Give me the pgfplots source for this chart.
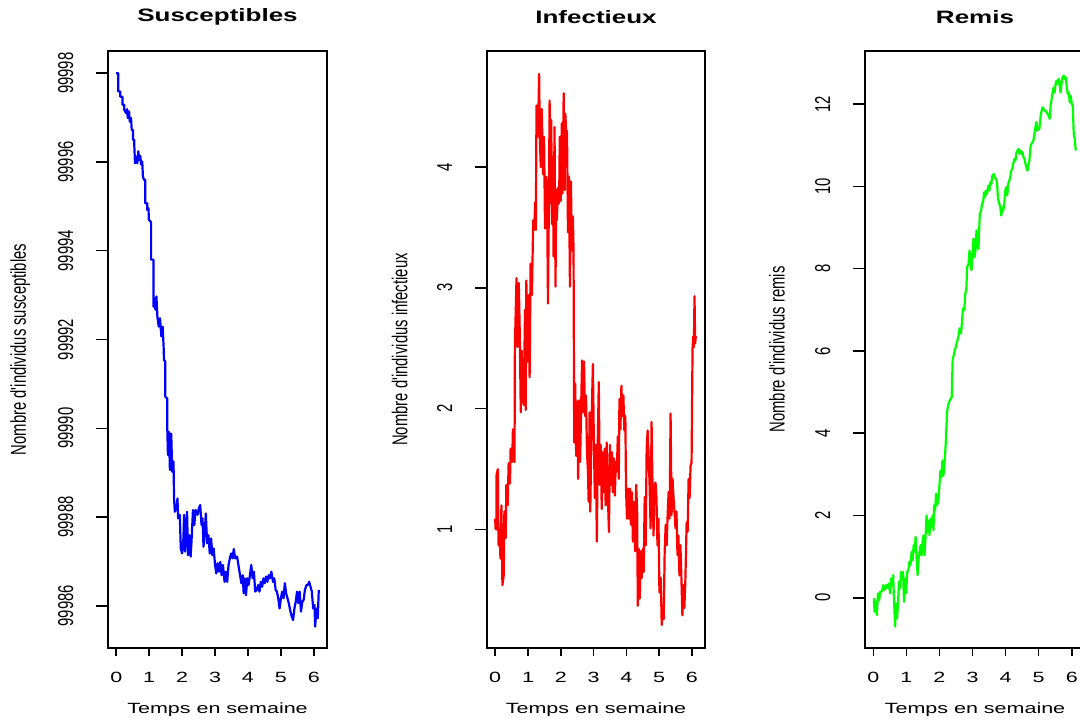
\documentclass[border=0pt]{standalone}
\usepackage{fontspec}
\setmainfont{Liberation Sans}
\usepackage{graphicx}
\usepackage{pgfplots}
\pgfplotsset{compat=1.18}

% text is squeezed vertically (horizontal text) or along its reading direction (rotated text)
\newcommand\hsq[1]{\scalebox{1}[0.69]{#1}}
\newcommand\vsq[1]{\rotatebox{90}{\scalebox{0.69}[1]{#1}}}
\newcommand\lab{\fontsize{21.5}{24}\selectfont}

\pgfplotsset{
  rpanel/.style={
    scale only axis, width=219pt, height=597pt, anchor=south west,
    xmin=-0.25, xmax=6.4,
    scaled y ticks=false, scaled x ticks=false,
    axis line style={line width=1.5pt, black},
    tick pos=left, tick align=outside,
    xtick={0,1,2,3,4,5,6},
    xticklabels={\hsq{0},\hsq{1},\hsq{2},\hsq{3},\hsq{4},\hsq{5},\hsq{6}},
    xtick style={line width=1.5pt, black, /pgfplots/major tick length=8.5pt},
    ytick style={line width=1.5pt, black, /pgfplots/major tick length=12.5pt},
    tick label style={font=\lab, inner sep=0pt},
    xticklabel style={anchor=center, yshift=-25pt},
    yticklabel style={anchor=center, xshift=-38pt},
    every axis x label/.style={at={(axis description cs:0.5,0)}, anchor=center, yshift=-62pt, font=\lab},
    every axis y label/.style={at={(axis description cs:-0.40,0.5)}, anchor=center, font=\lab},
    every axis title/.style={at={(axis description cs:0.5,1)}, anchor=center, yshift=34pt, font=\bfseries\fontsize{26}{30}\selectfont},
    xlabel={\hsq{Temps en semaine}},
    every axis plot/.append style={line width=2.2pt, line join=round, mark=none},
  }
}

\begin{document}
\begin{tikzpicture}
\useasboundingbox (0,0) rectangle (1080pt,722pt);
\clip (0,0) rectangle (1080pt,722pt);

% Susceptibles
\begin{axis}[rpanel, at={(108pt,74pt)},
  ymin=99985.05, ymax=99998.5,
  ytick={99986,99988,99990,99992,99994,99996,99998},
  yticklabels={\vsq{99986},\vsq{99988},\vsq{99990},\vsq{99992},\vsq{99994},\vsq{99996},\vsq{99998}},
  title={\hsq{Susceptibles}},
  ylabel={\vsq{Nombre d\textquotesingle individus susceptibles}}]
\addplot[color={rgb,255:red,0;green,0;blue,255}] coordinates {
(0,99998.0)(0.06,99998.0)(0.06,99997.59)(0.12,99997.59)(0.12,99997.47)(0.19,99997.47)
(0.19,99997.29)(0.245,99997.29)(0.245,99997.17)(0.30,99997.10)(0.33,99997.19)(0.35,99996.99)
(0.39,99997.14)(0.41,99996.91)(0.45,99996.99)(0.47,99996.72)(0.51,99996.72)(0.51,99996.50)
(0.55,99996.50)(0.55,99996.35)(0.57,99995.97)(0.61,99996.12)(0.64,99995.97)(0.67,99996.24)
(0.70,99996.05)(0.73,99996.14)(0.755,99995.94)(0.79,99996.01)(0.81,99995.67)(0.84,99995.60)
(0.88,99995.60)(0.88,99995.07)(0.94,99995.07)(0.94,99994.92)(0.98,99994.96)(0.99,99994.70)
(1.04,99994.66)(1.06,99994.62)(1.06,99993.80)(1.13,99993.80)(1.13,99992.74)(1.16,99992.93)
(1.19,99992.67)(1.22,99992.97)(1.25,99992.52)(1.29,99992.29)(1.33,99992.48)(1.37,99992.07)
(1.41,99992.29)(1.44,99991.81)(1.45,99991.54)(1.49,99991.50)(1.49,99990.71)(1.55,99990.67)
(1.55,99990.00)(1.57,99989.40)(1.60,99989.92)(1.63,99989.06)(1.67,99989.88)(1.70,99989.02)
(1.74,99989.25)(1.755,99988.42)(1.78,99988.12)(1.83,99988.20)(1.86,99988.42)(1.88,99987.97)
(1.93,99988.05)(1.96,99987.29)(2.00,99987.18)(2.04,99987.52)(2.06,99988.05)(2.09,99987.22)
(2.12,99987.59)(2.15,99988.12)(2.18,99987.14)(2.22,99987.59)(2.26,99987.11)(2.29,99987.52)
(2.33,99988.16)(2.37,99987.82)(2.41,99988.16)(2.47,99988.05)(2.51,99988.20)(2.55,99988.27)
(2.59,99987.82)(2.62,99987.97)(2.65,99987.33)(2.69,99987.67)(2.72,99988.08)(2.76,99987.41)
(2.80,99987.59)(2.84,99987.18)(2.88,99987.52)(2.92,99987.14)(2.96,99987.29)(3.00,99986.92)
(3.04,99986.73)(3.08,99986.96)(3.12,99986.77)(3.16,99986.99)(3.20,99986.69)(3.24,99986.92)
(3.29,99986.54)(3.33,99986.77)(3.37,99986.54)(3.41,99986.92)(3.45,99987.07)(3.49,99987.18)
(3.53,99987.07)(3.57,99987.28)(3.61,99987.07)(3.67,99987.11)(3.71,99986.92)(3.76,99986.69)
(3.80,99986.51)(3.84,99986.69)(3.87,99986.28)(3.90,99986.62)(3.94,99986.24)(3.98,99986.62)
(4.02,99986.47)(4.06,99986.69)(4.10,99986.92)(4.14,99986.62)(4.18,99986.77)(4.22,99986.32)
(4.27,99986.36)(4.31,99986.47)(4.35,99986.32)(4.39,99986.54)(4.43,99986.43)(4.47,99986.62)
(4.51,99986.51)(4.55,99986.66)(4.59,99986.54)(4.63,99986.69)(4.67,99986.62)(4.71,99986.77)
(4.76,99986.54)(4.80,99986.62)(4.84,99986.36)(4.88,99986.32)(4.92,99986.17)(4.96,99985.94)
(5.00,99986.17)(5.04,99986.32)(5.08,99986.17)(5.12,99986.51)(5.16,99986.28)(5.20,99986.17)
(5.24,99986.06)(5.29,99985.87)(5.33,99985.76)(5.37,99985.68)(5.41,99985.94)(5.45,99986.09)
(5.49,99986.32)(5.53,99986.06)(5.57,99986.32)(5.61,99985.87)(5.65,99986.09)(5.69,99986.13)
(5.73,99986.36)(5.78,99986.47)(5.82,99986.47)(5.86,99986.54)(5.90,99986.43)(5.94,99986.32)
(5.98,99985.94)(6.02,99986.02)(6.04,99985.53)(6.08,99985.94)(6.12,99985.72)(6.15,99986.36)
};
\end{axis}

% Infectieux
\begin{axis}[rpanel, at={(487pt,74pt)}, width=218pt,
  ymin=0.02, ymax=4.96,
  ytick={1,2,3,4},
  yticklabels={\vsq{1},\vsq{2},\vsq{3},\vsq{4}},
  title={\hsq{Infectieux}},
  ylabel={\vsq{Nombre d\textquotesingle individus infectieux}}]
\addplot[color={rgb,255:red,255;green,0;blue,0}] coordinates {
(0,1.09)(0.01,1.01)(0.04,1.00)(0.04,1.45)(0.08,1.50)(0.10,0.87)(0.13,1.01)(0.16,0.76)
(0.19,1.20)(0.22,0.54)(0.26,0.62)(0.28,1.15)(0.32,0.93)(0.34,1.37)(0.38,1.20)(0.41,1.55)
(0.45,1.38)(0.47,1.67)(0.52,1.56)(0.54,1.83)(0.59,1.56)(0.60,2.50)(0.65,3.08)(0.68,2.51)
(0.72,3.04)(0.75,2.62)(0.78,1.97)(0.81,2.48)(0.83,2.22)(0.87,2.03)(0.91,2.82)(0.93,1.99)
(0.95,3.06)(0.99,2.39)(1.02,2.94)(1.05,2.26)(1.08,3.20)(1.12,2.94)(1.16,3.56)(1.19,3.48)
(1.22,3.71)(1.24,3.48)(1.26,4.51)(1.30,4.25)(1.32,4.48)(1.34,4.77)(1.36,4.25)(1.39,4.00)
(1.42,4.48)(1.46,3.94)(1.49,4.25)(1.52,3.49)(1.55,3.92)(1.58,3.86)(1.61,2.87)(1.64,3.78)
(1.66,4.55)(1.69,3.70)(1.71,4.39)(1.73,3.53)(1.76,4.08)(1.78,3.26)(1.81,4.33)(1.84,3.01)
(1.86,3.81)(1.88,3.56)(1.92,3.83)(1.95,3.70)(1.97,4.25)(2.00,3.72)(2.03,4.36)(2.05,3.78)
(2.09,4.61)(2.12,3.81)(2.14,4.44)(2.17,4.25)(2.19,4.30)(2.22,3.46)(2.25,3.92)(2.28,3.01)
(2.31,3.88)(2.34,3.31)(2.37,3.59)(2.39,3.31)(2.41,1.72)(2.44,2.21)(2.47,1.61)(2.50,2.06)
(2.53,1.42)(2.56,2.07)(2.59,1.56)(2.62,1.99)(2.65,2.40)(2.67,1.97)(2.71,2.39)(2.74,1.94)
(2.77,2.11)(2.80,1.64)(2.83,1.48)(2.85,1.23)(2.88,1.97)(2.90,1.15)(2.94,1.89)(2.98,2.37)
(3.01,1.72)(3.04,1.26)(3.07,1.70)(3.10,0.90)(3.13,1.74)(3.16,2.22)(3.19,1.37)(3.22,1.70)
(3.25,1.17)(3.28,1.64)(3.31,1.31)(3.34,1.67)(3.37,1.20)(3.40,1.72)(3.43,1.34)(3.47,0.98)
(3.50,1.70)(3.53,1.37)(3.56,1.64)(3.59,1.31)(3.62,1.59)(3.65,1.28)(3.68,1.56)(3.71,1.48)
(3.74,1.77)(3.77,1.42)(3.79,2.08)(3.82,1.83)(3.85,2.19)(3.88,1.94)(3.91,2.11)(3.94,1.82)
(3.97,1.94)(3.99,1.34)(4.02,1.09)(4.05,1.34)(4.08,1.09)(4.11,1.34)(4.14,1.04)(4.17,1.31)
(4.20,0.90)(4.23,1.23)(4.27,0.82)(4.30,1.37)(4.33,1.15)(4.35,0.37)(4.38,0.84)(4.41,0.43)
(4.44,0.82)(4.47,0.60)(4.50,0.84)(4.53,0.65)(4.56,1.27)(4.59,0.87)(4.62,1.67)(4.65,1.82)
(4.68,1.61)(4.71,1.37)(4.74,1.01)(4.77,1.89)(4.80,1.34)(4.83,0.95)(4.86,1.35)(4.89,1.39)
(4.92,1.26)(4.95,0.87)(4.98,1.09)(5.01,0.48)(5.05,0.60)(5.08,0.21)(5.11,0.37)(5.14,0.26)
(5.17,0.82)(5.20,1.04)(5.23,0.87)(5.26,1.12)(5.29,1.31)(5.32,1.09)(5.35,1.96)(5.38,1.12)
(5.41,1.42)(5.44,1.26)(5.47,1.15)(5.50,1.01)(5.53,1.15)(5.56,0.79)(5.59,0.95)(5.62,0.62)
(5.65,0.87)(5.68,0.60)(5.71,0.29)(5.74,0.54)(5.77,0.35)(5.80,0.57)(5.84,1.06)(5.87,0.98)
(5.90,1.42)(5.93,1.26)(5.96,1.53)(5.99,1.55)(6.02,2.50)(6.04,2.60)(6.06,2.51)(6.08,2.93)
(6.10,2.54)(6.12,2.60)
};
\end{axis}

% Remis
\begin{axis}[rpanel, at={(865pt,74pt)}, width=220pt,
  ymin=-1.22, ymax=13.29,
  ytick={0,2,4,6,8,10,12},
  yticklabels={\vsq{0},\vsq{2},\vsq{4},\vsq{6},\vsq{8},\vsq{10},\vsq{12}},
  title={\hsq{Remis}},
  ylabel={\vsq{Nombre d\textquotesingle individus remis}}]
\addplot[color={rgb,255:red,0;green,255;blue,0}] coordinates {
(0,-0.02)(0.02,-0.02)(0.04,-0.34)(0.08,-0.10)(0.11,-0.42)(0.14,0.11)(0.18,-0.06)(0.21,0.15)
(0.26,0.15)(0.30,0.31)(0.34,0.19)(0.39,0.31)(0.43,0.23)(0.47,0.35)(0.51,0.11)(0.54,0.47)
(0.57,0.31)(0.60,0.55)(0.63,-0.10)(0.66,-0.70)(0.69,-0.14)(0.72,-0.50)(0.75,-0.10)(0.78,0.39)
(0.81,0.23)(0.84,0.63)(0.87,0.47)(0.90,0.63)(0.93,-0.10)(0.96,0.47)(0.99,0.11)(1.03,0.63)
(1.06,0.67)(1.09,0.87)(1.12,0.79)(1.16,1.12)(1.19,0.91)(1.22,1.28)(1.25,1.12)(1.28,1.48)
(1.31,0.95)(1.34,0.55)(1.37,0.95)(1.40,1.12)(1.43,1.28)(1.46,1.03)(1.49,1.36)(1.52,1.52)
(1.55,1.03)(1.58,1.48)(1.61,2.00)(1.64,1.60)(1.67,1.88)(1.70,1.52)(1.73,1.92)(1.76,1.72)
(1.79,2.00)(1.82,1.64)(1.84,2.25)(1.87,2.13)(1.90,2.53)(1.93,2.25)(1.97,2.37)(2.00,2.73)
(2.03,3.09)(2.06,2.93)(2.09,3.34)(2.12,2.97)(2.15,3.22)(2.19,3.74)(2.23,4.51)(2.26,4.67)
(2.29,4.75)(2.33,4.83)(2.37,4.87)(2.40,5.80)(2.43,5.88)(2.46,6.01)(2.49,6.08)(2.52,6.18)
(2.57,6.34)(2.61,6.55)(2.65,6.42)(2.67,6.59)(2.71,7.03)(2.75,6.99)(2.78,7.39)(2.81,7.47)
(2.84,8.04)(2.88,8.12)(2.91,8.44)(2.94,8.12)(2.97,7.96)(3.00,8.36)(3.03,8.73)(3.06,8.28)
(3.09,8.44)(3.12,8.93)(3.15,8.53)(3.18,8.48)(3.22,9.33)(3.26,9.41)(3.29,9.58)(3.32,9.62)
(3.35,9.86)(3.38,9.74)(3.41,9.90)(3.44,9.82)(3.48,10.02)(3.51,9.90)(3.54,10.10)(3.57,10.06)
(3.60,10.26)(3.64,10.30)(3.67,10.22)(3.71,10.18)(3.74,10.10)(3.77,9.70)(3.81,9.58)(3.84,9.49)
(3.87,9.29)(3.90,9.49)(3.93,9.41)(3.96,9.58)(3.99,9.90)(4.02,9.98)(4.05,9.78)(4.08,10.06)
(4.11,10.14)(4.14,10.22)(4.17,10.38)(4.20,10.42)(4.23,10.55)(4.27,10.67)(4.30,10.63)(4.33,10.83)
(4.36,10.87)(4.39,10.91)(4.42,10.79)(4.45,10.87)(4.48,10.79)(4.51,10.83)(4.54,10.71)(4.57,10.67)
(4.60,10.55)(4.63,10.46)(4.66,10.38)(4.69,10.51)(4.72,10.63)(4.75,10.95)(4.78,11.03)(4.81,11.07)
(4.84,11.11)(4.87,11.27)(4.90,11.43)(4.93,11.56)(4.96,11.35)(4.99,11.43)(5.02,11.39)(5.06,11.72)
(5.09,11.84)(5.12,11.92)(5.15,11.88)(5.18,11.84)(5.21,11.84)(5.24,11.80)(5.27,11.76)(5.30,11.72)
(5.33,11.64)(5.36,11.96)(5.39,12.12)(5.42,12.28)(5.45,12.40)(5.48,12.28)(5.51,12.48)(5.54,12.57)
(5.57,12.48)(5.60,12.61)(5.63,12.53)(5.66,12.28)(5.69,12.48)(5.72,12.65)(5.76,12.69)(5.79,12.61)
(5.82,12.65)(5.85,12.40)(5.88,12.24)(5.91,12.28)(5.94,12.04)(5.97,12.20)(6.00,12.00)(6.03,11.96)
(6.06,11.27)(6.09,11.15)(6.12,10.87)
};
\end{axis}
\end{tikzpicture}
\end{document}
